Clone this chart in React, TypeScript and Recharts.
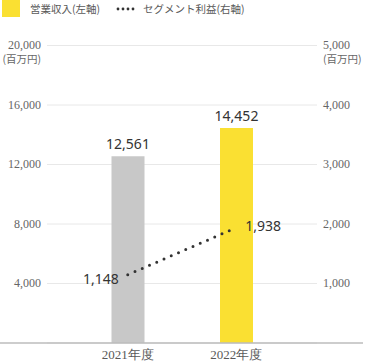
import { ComposedChart, Bar, Line, XAxis, YAxis, CartesianGrid, Cell, LabelList, ReferenceLine } from 'recharts';

const YEARS = ['2021年度', '2022年度'];
const REVENUE = [12561, 14452];
const PROFIT = [1148, 1938];
const LEFT_TICKS = [4000, 8000, 12000, 16000, 20000];
const RIGHT_TICKS = [1000, 2000, 3000, 4000, 5000];
const UNIT = '(百万円)';
const LEGEND_REVENUE = '営業収入(左軸)';
const LEGEND_PROFIT = 'セグメント利益(右軸)';

const BAR_COLORS = ['#c8c8c8', '#fae032'];
const SERIF = "'Liberation Serif', 'DejaVu Serif', serif";
const SANS = "'Noto Sans', 'Noto Sans CJK JP', sans-serif";
const CJK = "'Noto Sans CJK JP', sans-serif";

const data = YEARS.map((year, i) => ({ year, revenue: REVENUE[i], profit: PROFIT[i] }));

const fmt = (v: number) => v.toLocaleString('en-US');

// top tick carries the unit on a second line
function makeTick(max: number) {
  return (props: any) => {
    const { x, y, payload, textAnchor } = props;
    return (
      <text x={x} y={y} textAnchor={textAnchor} fill="#666" fontSize={12} fontFamily={SERIF}>
        <tspan x={x} dy={3.5}>
          {fmt(payload.value)}
        </tspan>
        {payload.value === max && (
          <tspan x={x} dy={14} fontSize={10.5} fontFamily={CJK}>
            {UNIT}
          </tspan>
        )}
      </text>
    );
  };
}

function ProfitLabel(props: any) {
  const { x, y, value, index } = props;
  const first = index === 0;
  return (
    <text
      x={first ? x - 9 : x + 9}
      y={first ? y + 9 : y + 3.5}
      textAnchor={first ? 'end' : 'start'}
      fill="#333"
      fontSize={14}
      fontFamily={SANS}
    >
      {fmt(value)}
    </text>
  );
}

function Legend() {
  return (
    <div style={{ position: 'absolute', left: 0, top: 0, height: 18, width: 365, fontFamily: CJK, fontSize: 10.5, color: '#595959' }}>
      <div style={{ position: 'absolute', left: 2, top: 0, width: 18, height: 17, background: BAR_COLORS[1] }} />
      <span style={{ position: 'absolute', left: 30, top: 1, lineHeight: '16px' }}>{LEGEND_REVENUE}</span>
      <svg style={{ position: 'absolute', left: 114, top: 4 }} width={22} height={10}>
        {[0, 1, 2, 3].map((i) => (
          <circle key={i} cx={4 + i * 5} cy={5} r={1.4} fill="#333" />
        ))}
      </svg>
      <span style={{ position: 'absolute', left: 143, top: 1, lineHeight: '16px' }}>{LEGEND_PROFIT}</span>
    </div>
  );
}

export default function App() {
  return (
    <div style={{ position: 'absolute', left: 0, top: 0, width: 365, height: 362 }}>
      <ComposedChart width={365} height={362} data={data} margin={{ top: 45.5, right: 0, bottom: 0, left: 0 }}>
        <CartesianGrid yAxisId="left" vertical={false} stroke="#e8e8e8" strokeWidth={1} />
        <XAxis
          dataKey="year"
          height={19}
          axisLine={false}
          tickLine={false}
          tickSize={0}
          tickMargin={7}
          padding={{ left: 26.5, right: 26.5 }}
          tick={{ fill: '#595959', fontSize: 13, fontFamily: SERIF }}
        />
        <YAxis
          yAxisId="left"
          orientation="left"
          width={47}
          domain={[0, 20000]}
          ticks={LEFT_TICKS}
          axisLine={false}
          tickLine={false}
          tickSize={0}
          tickMargin={6}
          interval={0}
          tick={makeTick(20000)}
        />
        <YAxis
          yAxisId="right"
          orientation="right"
          width={48}
          domain={[0, 5000]}
          ticks={RIGHT_TICKS}
          axisLine={false}
          tickLine={false}
          tickSize={0}
          tickMargin={6}
          interval={0}
          tick={makeTick(5000)}
        />
        <ReferenceLine
          yAxisId="left"
          y={0}
          shape={(p: any) => <line x1={0} x2={363} y1={p.y1} y2={p.y2} stroke="#bdbdbd" strokeWidth={1.5} />}
        />
        <Bar yAxisId="left" dataKey="revenue" barSize={33} isAnimationActive={false}>
          {data.map((d, i) => (
            <Cell key={d.year} fill={BAR_COLORS[i]} />
          ))}
          <LabelList
            dataKey="revenue"
            position="top"
            offset={7}
            formatter={(v: any) => fmt(Number(v))}
            fill="#333"
            fontSize={14}
            fontFamily={SANS}
          />
        </Bar>
        <Line
          yAxisId="right"
          type="linear"
          dataKey="profit"
          stroke="#333"
          strokeWidth={3}
          strokeDasharray="0 7.9"
          strokeLinecap="round"
          dot={false}
          activeDot={false}
          isAnimationActive={false}
        >
          <LabelList dataKey="profit" content={ProfitLabel} />
        </Line>
      </ComposedChart>
      <Legend />
    </div>
  );
}
